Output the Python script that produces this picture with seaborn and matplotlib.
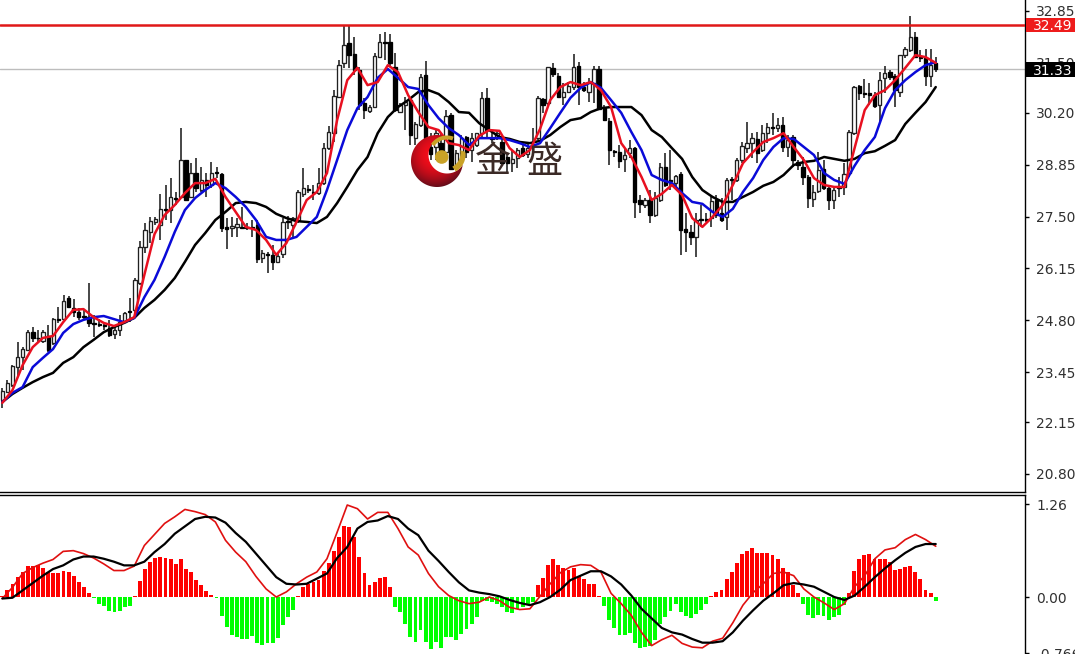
import numpy as np
import matplotlib
matplotlib.use("Agg")
import matplotlib.pyplot as plt
import seaborn as sns
from matplotlib.patches import Polygon, Circle, Rectangle
from matplotlib.transforms import blended_transform_factory

highs = [23.04,23.24,23.63,24.23,24.10,24.55,24.62,24.55,24.55,24.68,24.86,25.15,25.46,25.43,25.35,25.12,25.07,25.77,24.94,24.83,
 24.75,24.81,24.62,24.94,25.01,25.38,25.90,26.86,27.33,27.49,27.49,28.09,28.32,28.50,28.14,29.80,28.97,28.89,29.02,28.79,
 28.63,28.92,28.79,28.63,27.46,27.49,27.46,27.75,27.33,27.41,27.41,26.63,26.58,26.76,26.58,27.46,27.51,27.49,28.19,28.76,
 28.32,28.32,28.76,29.41,29.86,30.79,31.57,32.49,32.49,32.17,31.39,30.59,30.40,31.76,32.25,32.30,32.25,31.76,30.45,30.61,
 30.53,29.96,31.21,31.55,29.67,29.75,29.67,30.27,30.20,29.23,29.62,29.60,29.67,29.67,30.74,30.85,29.70,29.75,29.62,29.15,
 29.23,29.28,29.41,29.44,29.80,30.64,30.59,31.39,31.50,31.24,30.98,31.00,31.73,31.52,31.00,31.11,31.42,31.42,30.40,30.06,
 29.23,29.36,29.28,29.49,29.31,28.06,27.98,28.19,28.14,28.89,29.15,29.23,28.58,28.66,27.59,27.28,27.59,27.80,27.59,28.01,
 28.06,27.98,28.50,28.53,29.02,29.44,29.96,29.67,29.70,29.88,29.93,30.20,30.06,30.09,29.62,29.62,28.97,29.05,28.58,28.32,
 29.18,28.97,28.32,28.27,28.53,28.89,29.75,30.90,30.92,31.08,30.98,30.74,31.26,31.42,31.31,31.21,31.70,31.91,32.72,32.30,
 31.83,31.86,31.86,31.65]
lows = [22.52,22.91,23.06,23.32,23.50,24.00,24.23,24.23,24.21,23.97,24.16,24.73,24.81,25.15,24.88,24.81,24.83,24.62,24.36,24.62,
 24.55,24.36,24.31,24.39,24.73,24.75,24.99,25.72,26.55,26.81,27.28,26.89,27.41,27.33,27.80,27.98,27.93,27.98,28.14,28.14,
 28.01,28.24,28.50,27.10,26.65,26.97,26.97,27.20,27.15,26.97,26.29,26.29,26.03,26.11,26.29,26.42,27.17,26.97,27.33,28.01,
 28.11,27.93,28.06,28.32,29.23,29.44,30.59,31.37,31.37,31.18,30.27,30.04,30.20,30.32,31.63,31.57,31.39,30.22,30.20,29.75,
 29.36,29.36,29.83,29.49,28.97,28.97,29.10,29.15,28.71,28.71,28.89,29.02,28.92,29.31,29.57,29.57,29.41,29.49,28.84,28.63,
 28.66,28.76,29.05,29.02,29.23,29.49,30.20,30.40,31.13,30.59,30.40,30.72,30.79,30.40,30.74,30.48,30.45,30.27,29.99,28.84,
 29.05,28.76,28.66,29.02,27.46,27.59,27.72,27.33,27.49,27.88,28.27,28.19,28.27,26.50,26.58,26.76,26.45,27.23,27.36,27.23,
 27.46,27.36,27.15,27.93,28.40,28.89,29.15,29.02,28.89,29.18,29.41,29.62,29.70,29.18,29.05,28.79,28.71,28.32,27.72,27.75,
 28.11,28.19,27.67,27.70,28.01,28.06,28.53,29.62,30.53,30.59,30.40,30.32,29.93,30.72,31.05,30.35,30.61,31.63,31.78,31.63,
 31.52,30.90,30.87,31.26]
opens = [22.72,22.93,23.11,23.58,23.84,24.03,24.49,24.34,24.26,24.39,24.21,24.83,24.83,25.38,25.12,25.01,24.91,24.88,24.73,24.70,
 24.68,24.60,24.44,24.55,24.75,25.04,25.07,25.77,26.71,27.10,27.36,27.28,27.70,27.67,27.98,28.01,28.97,28.01,28.63,28.19,
 28.45,28.32,28.66,28.61,27.23,27.20,27.23,27.23,27.23,27.23,27.28,26.42,26.52,26.50,26.32,26.52,27.38,27.28,27.41,28.09,
 28.22,28.14,28.11,28.37,29.28,29.67,30.61,31.50,32.02,31.73,31.31,30.45,30.25,30.35,31.65,32.04,32.04,31.39,30.22,30.40,
 30.53,29.54,29.88,31.18,29.31,29.31,29.41,29.18,30.14,28.84,29.15,29.57,29.23,29.36,29.67,30.59,29.54,29.54,29.44,29.05,
 28.89,29.02,29.28,29.13,29.36,29.54,30.56,30.45,31.37,31.16,30.61,30.74,30.87,31.42,30.87,30.74,30.98,31.34,30.32,29.99,
 29.20,29.18,29.00,29.15,29.28,27.93,27.80,27.93,27.54,27.93,28.79,28.45,28.37,28.61,27.17,27.10,26.97,27.44,27.44,27.46,
 27.93,27.59,27.49,28.48,28.45,28.97,29.28,29.41,29.52,29.23,29.67,29.83,29.80,29.88,29.31,29.57,28.92,28.79,28.53,27.96,
 28.17,28.74,28.24,27.93,28.27,28.27,28.63,29.67,30.90,30.72,30.72,30.66,30.40,31.11,31.26,31.16,30.74,31.70,31.83,32.17,
 31.65,31.63,31.16,31.50]
closes = [22.96,23.17,23.61,23.84,24.05,24.49,24.34,24.33,24.49,24.03,24.83,24.81,25.30,25.15,25.01,24.88,24.88,24.73,24.70,24.68,
 24.65,24.42,24.55,24.75,24.99,25.01,25.85,26.71,27.15,27.38,27.44,27.70,27.67,28.01,27.96,28.97,27.93,28.63,28.24,28.45,
 28.32,28.63,28.63,27.20,27.17,27.25,27.30,27.20,27.20,27.20,26.39,26.55,26.50,26.32,26.47,27.36,27.36,27.46,28.14,28.24,
 28.19,28.11,28.37,29.28,29.70,30.64,31.44,31.96,31.70,31.31,30.40,30.27,30.35,31.68,32.04,32.02,31.50,30.27,30.40,30.48,
 29.62,29.91,31.13,29.54,29.13,29.67,29.18,30.12,28.74,29.15,29.54,29.18,29.54,29.67,30.59,29.75,29.52,29.67,28.89,28.89,
 28.99,29.23,29.10,29.28,29.34,30.59,30.40,31.39,31.21,30.61,30.74,30.90,31.39,30.87,30.79,30.98,31.34,30.30,30.01,29.23,
 29.18,28.95,29.10,29.28,27.88,27.83,27.93,27.54,27.98,28.79,28.32,28.42,28.55,27.15,27.10,26.97,27.41,27.41,27.41,27.90,
 27.54,27.41,28.45,28.45,28.97,29.34,29.41,29.54,29.15,29.67,29.83,29.80,29.88,29.31,29.49,28.97,28.84,28.53,27.98,28.14,
 28.71,28.24,27.93,28.19,28.24,28.61,29.70,30.87,30.72,30.69,30.66,30.38,31.05,31.24,31.13,30.79,31.70,31.86,32.17,31.65,
 31.63,31.16,31.44,31.33]

ma_fast = [22.65,22.98,23.63,24.10,24.34,24.39,24.75,25.07,25.09,24.88,24.73,24.65,24.75,24.88,25.98,27.04,27.54,27.80,28.11,28.37,
 28.37,28.48,28.01,27.62,27.23,27.15,26.89,26.50,26.81,27.36,27.93,28.14,28.63,30.01,31.05,31.37,30.92,31.00,31.44,31.26,
 30.66,30.22,29.83,29.75,29.41,29.36,29.23,29.60,29.75,29.73,29.28,29.05,29.23,29.78,30.53,30.87,31.00,30.92,31.00,30.79,
 30.35,29.41,29.05,28.53,27.93,28.09,28.32,28.06,27.46,27.23,27.49,27.80,28.32,28.89,29.18,29.44,29.54,29.67,29.31,28.97,
 28.50,28.32,28.27,28.27,29.28,30.27,30.66,30.79,31.05,31.37,31.70,31.65,31.50]
ma_mid = [22.67,22.91,23.06,23.58,23.82,24.05,24.47,24.70,24.81,24.88,24.91,24.83,24.75,24.86,25.40,25.85,26.45,27.10,27.67,27.98,
 28.19,28.37,28.24,28.01,27.75,27.41,26.97,26.89,26.89,26.97,27.23,27.49,28.19,28.97,29.75,30.32,30.61,31.11,31.34,31.11,
 30.87,30.82,30.40,30.06,29.80,29.62,29.36,29.54,29.54,29.54,29.49,29.41,29.31,29.41,29.80,30.20,30.59,30.85,31.00,30.85,
 30.53,30.20,29.70,29.23,28.58,28.45,28.37,28.11,27.88,27.83,27.62,27.49,27.70,28.14,28.50,28.97,29.31,29.54,29.52,29.31,
 29.10,28.63,28.45,28.35,28.82,29.23,29.57,30.32,30.79,31.05,31.26,31.44,31.52]
ma_slow = [22.67,22.88,23.04,23.19,23.32,23.43,23.69,23.84,24.10,24.29,24.49,24.62,24.73,24.86,25.12,25.33,25.59,25.90,26.32,26.76,
 27.07,27.41,27.62,27.85,27.88,27.85,27.75,27.57,27.46,27.38,27.36,27.33,27.49,27.85,28.27,28.71,29.05,29.67,30.09,30.35,
 30.53,30.74,30.79,30.69,30.48,30.22,30.20,29.93,29.75,29.57,29.52,29.44,29.41,29.47,29.62,29.83,30.01,30.06,30.22,30.32,
 30.35,30.35,30.35,30.14,29.75,29.57,29.28,29.00,28.53,28.19,28.01,27.88,27.88,28.01,28.14,28.30,28.40,28.58,28.84,28.92,
 28.95,29.05,29.00,28.95,29.00,29.15,29.20,29.34,29.49,29.91,30.20,30.48,30.87]

macd_hist = [.01,.09,.18,.27,.34,.42,.42,.43,.40,.34,.32,.33,.35,.34,.28,.20,.13,.06,-.02,-.09,-.12,-.19,-.20,-.19,-.14,-.12,
 .02,.22,.38,.48,.53,.55,.53,.51,.45,.52,.38,.34,.23,.16,.08,.03,-.01,-.26,-.41,-.51,-.54,-.57,-.57,-.53,-.63,-.65,-.62,-.62,
 -.55,-.38,-.27,-.17,.01,.13,.18,.20,.23,.35,.46,.63,.82,.96,.95,.82,.55,.33,.16,.20,.26,.27,.14,-.14,-.20,-.37,-.54,-.61,
 -.45,-.61,-.70,-.61,-.69,-.54,-.54,-.58,-.50,-.44,-.36,-.27,-.05,-.05,-.07,-.09,-.14,-.20,-.22,-.16,-.13,-.09,-.07,.16,.26,
 .44,.51,.44,.40,.37,.40,.29,.25,.18,.18,.02,-.12,-.31,-.42,-.51,-.52,-.49,-.62,-.69,-.68,-.66,-.59,-.36,-.27,-.19,-.09,-.21,
 -.26,-.29,-.23,-.17,-.10,.02,.07,.09,.25,.34,.46,.58,.63,.66,.60,.60,.60,.57,.52,.40,.34,.16,.05,-.09,-.25,-.29,-.25,-.26,
 -.31,-.27,-.24,-.11,.06,.36,.51,.57,.58,.52,.52,.52,.48,.37,.38,.41,.42,.34,.24,.10,.05,-.05]
macd_fast = [-.02,.13,.32,.40,.46,.51,.62,.63,.59,.53,.45,.36,.36,.42,.70,.85,1.00,1.09,1.19,1.16,1.12,1.02,.77,.61,.48,.28,.11,0,
 .07,.18,.27,.34,.52,.88,1.25,1.20,1.06,1.15,1.15,.93,.68,.57,.32,.14,.02,-.05,-.09,-.07,0,-.05,-.14,-.17,-.16,.01,.18,.33,.41,.44,
 .43,.34,.05,-.09,-.25,-.48,-.66,-.58,-.52,-.63,-.68,-.69,-.60,-.56,-.35,-.11,.06,.18,.32,.34,.29,.11,0,-.08,-.17,-.09,.14,.29,.52,
 .64,.67,.78,.85,.78,.69]
macd_slow = [-.02,-.01,.09,.19,.29,.38,.43,.51,.55,.55,.52,.48,.43,.43,.48,.61,.72,.86,.96,1.06,1.09,1.08,1.01,.87,.75,.59,.43,.27,
 .18,.17,.18,.25,.32,.53,.68,.93,1.02,1.04,1.10,1.06,.93,.84,.63,.49,.34,.20,.09,.06,.04,.01,-.04,-.08,-.11,-.07,0,.10,.23,.29,.35,
 .35,.28,.17,.02,-.16,-.29,-.42,-.48,-.51,-.57,-.62,-.62,-.60,-.48,-.32,-.18,-.05,.05,.16,.19,.17,.14,.07,0,-.04,.02,.14,.27,.39,.50,
 .60,.68,.72,.72]

price_ticks = [32.85,31.50,30.20,28.85,27.50,26.15,24.80,23.45,22.15,20.80]
macd_ticks = [1.26,0.00,-0.766]
macd_tick_labels = ["1.26","0.00","-0.766"]
resistance = 32.49
last_price = 31.33
brand = ["金","盛"]

n = len(closes)
bars = np.arange(n)
line_bars = np.linspace(0, n-1, len(ma_fast))

sns.set_theme(style="white")
plt.rcParams["font.family"] = ["DejaVu Sans"]
W, H = 1075, 654
fig = plt.figure(figsize=(W/100, H/100), dpi=100)
fig.patch.set_facecolor("white")
right = 1025/W
ax = fig.add_axes([0, (H-492)/H, right, 492/H])
axm = fig.add_axes([0, 0, right, (H-495)/H])

xlim = (-0.45, 200.5)
o, c, hi, lo = map(np.array, (opens, closes, highs, lows))
up = c > o
ax.vlines(bars, lo, hi, color="#151515", lw=1.1, zorder=2)
ax.bar(bars[up], (c-o)[up], bottom=o[up], width=0.66, facecolor="white", edgecolor="#202020", lw=0.95, zorder=3)
ax.bar(bars[~up], (o-c)[~up], bottom=c[~up], width=0.66, facecolor="black", edgecolor="black", lw=0.95, zorder=3)

ax.axhline(last_price, color="#bdbdbd", lw=1.0, zorder=1)
ax.axhline(resistance, color="#e01818", lw=1.8, zorder=6)
for vals, col in ((ma_slow, "black"), (ma_mid, "#0a0ad8"), (ma_fast, "#e81020")):
    sns.lineplot(x=line_bars, y=vals, color=col, lw=1.8, ax=ax, estimator=None, sort=False, errorbar=None, zorder=5)

ax.set_xlim(*xlim)
ax.set_ylim(33.136-0.02603*492, 33.136)
ax.set_xticks([])
ax.set_xlabel(""); ax.set_ylabel("")
ax.yaxis.tick_right()
ax.set_yticks(price_ticks)
ax.set_yticklabels([f"{t:.2f}" for t in price_ticks])
ax.tick_params(axis="y", length=3, width=1, color="black", labelsize=10, labelcolor="#303030", pad=5, right=True)

hist = np.array(macd_hist)
sns.barplot(x=bars[:len(hist)], y=hist, hue=np.where(hist >= 0, "up", "down"),
            palette={"up": "#ff0000", "down": "#00ff00"}, native_scale=True, width=0.76,
            legend=False, saturation=1, ax=axm, zorder=2, dodge=False, linewidth=0)
sns.lineplot(x=line_bars, y=macd_fast, color="#e01010", lw=1.2, ax=axm, estimator=None, sort=False, errorbar=None, zorder=4)
sns.lineplot(x=line_bars, y=macd_slow, color="black", lw=1.6, ax=axm, estimator=None, sort=False, errorbar=None, zorder=5)
axm.set_xlim(*xlim)
axm.set_ylim(-0.774, 1.386)
axm.set_xticks([])
axm.set_xlabel(""); axm.set_ylabel("")
axm.yaxis.tick_right()
axm.set_yticks(macd_ticks)
axm.set_yticklabels(macd_tick_labels)
axm.tick_params(axis="y", length=3, width=1, color="black", labelsize=10, labelcolor="#303030", pad=5, right=True)

for a in (ax, axm):
    a.set_facecolor("white")
    a.spines["left"].set_visible(False)
    for s in ("right", "top", "bottom"):
        a.spines[s].set_color("black")
        a.spines[s].set_linewidth(1.0)
axm.spines["bottom"].set_visible(False)
ax.spines["top"].set_visible(False)

tr = blended_transform_factory(ax.transAxes, ax.transData)
tag_w = (1075-1026)/1025
tag_h = 14.5*0.02603
for val, col in ((resistance, "#ee1c1c"), (last_price, "black")):
    ax.add_patch(Rectangle((1026/1025, val-tag_h/2), tag_w, tag_h, transform=tr, facecolor=col,
                           edgecolor="none", clip_on=False, zorder=8))
    ax.text(1033/1025, val, f"{val:.2f}", transform=tr, color="white", fontsize=10,
            va="center_baseline", ha="left", clip_on=False, zorder=9)

ov = fig.add_axes([0, 0, 1, 1], zorder=10)
ov.set_xlim(0, W); ov.set_ylim(H, 0); ov.axis("off"); ov.patch.set_alpha(0)
cx, cy, r = 437.0, 161.0, 26.0
ix, iy, ir = 447.0, 155.0, 18.5
t = np.linspace(0, 2*np.pi, 721)[:-1]
ox, oy = cx + r*np.cos(t), cy + r*np.sin(t)
keep = (ox-ix)**2 + (oy-iy)**2 > ir**2
k = np.argmax(keep & ~np.roll(keep, 1))
ox, oy, keep = np.roll(ox, -k), np.roll(oy, -k), np.roll(keep, -k)
ox, oy = ox[keep], oy[keep]
jx, jy = ix + ir*np.cos(t), iy + ir*np.sin(t)
inside = (jx-cx)**2 + (jy-cy)**2 < r**2
k = np.argmax(inside & ~np.roll(inside, 1))
jx, jy, inside = np.roll(jx, -k), np.roll(jy, -k), np.roll(inside, -k)
jx, jy = jx[inside], jy[inside]
crescent = Polygon(np.r_[np.c_[ox, oy], np.c_[jx, jy][::-1]], closed=True, facecolor="none", edgecolor="none", transform=ov.transData)
ov.add_patch(crescent)
gx, gy = np.meshgrid(np.linspace(cx-r, cx+r, 80), np.linspace(cy-r, cy+r, 80))
d = np.hypot(gx-cx+2, gy-cy+6)/r
cols = np.clip(np.dstack([0.98-0.38*d**2, 0.05+0*d, 0.10+0*d]), 0, 1)
im = ov.imshow(cols, extent=(cx-r, cx+r, cy+r, cy-r), aspect="auto", zorder=2, interpolation="bilinear")
im.set_clip_path(crescent)
ov.set_xlim(0, W); ov.set_ylim(H, 0)
ov.add_patch(Circle((441.7, 157.0), 6.8, facecolor="#c9a227", edgecolor="none", zorder=3))
a1 = np.deg2rad(np.linspace(-10, 62, 40))
a2 = a1[::-1]
gold = np.r_[np.c_[ix+ir*np.cos(a1), iy+ir*np.sin(a1)], np.c_[ix-2+(ir-3)*np.cos(a2), iy-2+(ir-3)*np.sin(a2)]]
ov.add_patch(Polygon(gold, closed=True, facecolor="#c9a227", edgecolor="none", zorder=3))
a1 = np.deg2rad(np.linspace(215, 290, 30))
a2 = a1[::-1]
gold2 = np.r_[np.c_[ix+(ir+1)*np.cos(a1), iy+(ir+1)*np.sin(a1)], np.c_[ix+(ir-3)*np.cos(a2), iy+(ir-3)*np.sin(a2)]]
ov.add_patch(Polygon(gold2, closed=True, facecolor="#c9a227", edgecolor="none", zorder=3))
for ch, x in zip(brand, (493, 544)):
    ov.text(x, 162, ch, fontsize=26, color="#3b2a26", ha="center", va="center",
            family=["Noto Sans CJK SC", "DejaVu Sans"], zorder=4)

fig.savefig("out.png", dpi=100, facecolor="white")
